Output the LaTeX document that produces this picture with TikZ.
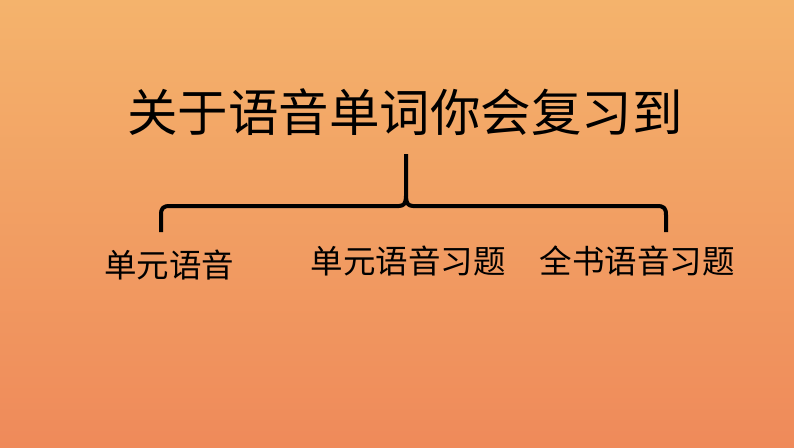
\documentclass[tikz,border=0pt]{standalone}
\usepackage{fontspec}
\newfontfamily\cjk{Noto Sans CJK SC}
\definecolor{bgtop}{RGB}{244,179,108}
\definecolor{bgbot}{RGB}{239,138,90}
\tikzset{
  title/.style={inner sep=0pt, font=\cjk\fontsize{50.5}{50.5}\selectfont},
  label/.style={inner sep=0pt, font=\cjk\fontsize{32.5}{32.5}\selectfont},
  bracestyle/.style={line width=4pt, line cap=butt, line join=round}
}
\begin{document}
\begin{tikzpicture}[x=1pt,y=-1pt]
\useasboundingbox (0,0) rectangle (794,447);
\shade[top color=bgtop, bottom color=bgbot] (0,0) rectangle (794,447);
\node[title] (t) at (405,112) {关于语音单词你会复习到};
\coordinate (stemtop) at (406,154);
\coordinate (lend) at (161,232);
\coordinate (rend) at (666,232);
\draw[bracestyle] (lend) -- (161,215) .. controls (161,208) and (163,206) .. (170,206)
  -- (399,206) .. controls (404,206) and (406,203) .. (406,196) -- (stemtop);
\draw[bracestyle] (406,196) .. controls (406,203) and (408,206) .. (413,206)
  -- (657,206) .. controls (664,206) and (666,208) .. (666,215) -- (rend);
\node[label] (a) at (169,265) {单元语音};
\node[label] (b) at (408,261) {单元语音习题};
\node[label] (c) at (637,261) {全书语音习题};
\end{tikzpicture}
\end{document}
